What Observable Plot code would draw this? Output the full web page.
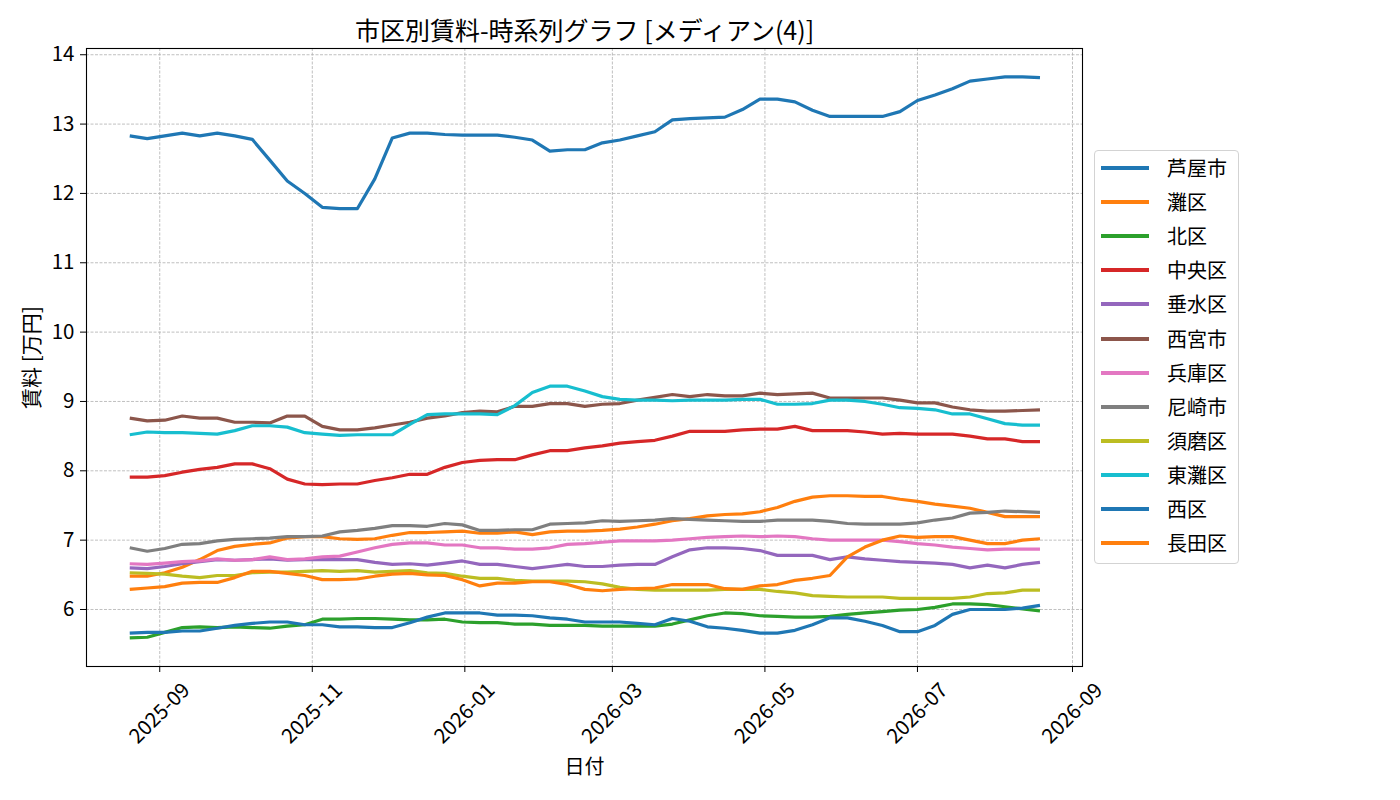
<!DOCTYPE html>
<html>
<head>
<meta charset="utf-8">
<script src="https://cdn.jsdelivr.net/npm/d3@7"></script>
<script src="https://cdn.jsdelivr.net/npm/@observablehq/plot@0.6"></script>
<style>
  html, body { margin: 0; padding: 0; background: #fff; }
  #wrap { position: relative; width: 1400px; height: 800px; overflow: hidden; font-family: "Noto Sans CJK JP", "Noto Sans", sans-serif; }
  #legend { position: absolute; left: 1094px; top: 150px; width: 145px; height: 414px; border: 1px solid #d3d3d3; border-radius: 4px; background: rgba(255,255,255,0.85); box-sizing: border-box; padding-top: 0px; }
  .row { height: 34.1px; display: flex; align-items: center; }
  .sw { width: 48px; height: 4px; margin-left: 6px; margin-right: 18px; }
  .lab { font-size: 20px; color: #000; line-height: 1; }
</style>
</head>
<body>
<div id="wrap"></div>
<script>
const series = ["芦屋市","灘区","北区","中央区","垂水区","西宮市","兵庫区","尼崎市","須磨区","東灘区","西区","長田区"];
const colors = ["#1f77b4","#ff7f0e","#2ca02c","#d62728","#9467bd","#8c564b","#e377c2","#7f7f7f","#bcbd22","#17becf","#1f77b4","#ff7f0e"];
const startDate = "2025-08-20";
const weekCount = 53;
const tickLabels = ["2025-09","2025-11","2026-01","2026-03","2026-05","2026-07","2026-09"];
const yTicks = [6,7,8,9,10,11,12,13,14];

const ashiya = [12.83,12.79,12.83,12.87,12.83,12.87,12.83,12.78,12.48,12.18,12.00,11.80,11.78,11.78,12.21,12.80,12.87,12.87,12.85,12.84,12.84,12.84,12.81,12.77,12.61,12.63,12.63,
  12.73,12.77,12.83,12.89,13.06,13.08,13.09,13.10,13.21,13.36,13.36,13.32,13.20,13.11,13.11,13.11,13.11,13.18,13.34,13.42,13.51,13.62,13.65,13.68,13.68,13.67];
const nada = [6.48,6.48,6.53,6.61,6.72,6.85,6.91,6.94,6.96,7.03,7.05,7.05,7.02,
  7.01,7.02,7.07,7.11,7.11,7.12,7.13,7.10,7.10,7.12,7.08,7.12,7.13,7.13,7.14,
  7.16,7.19,7.23,7.28,7.31,7.35,7.37,7.38,7.41,7.47,7.56,7.62,7.64,7.64,7.63,
  7.63,7.59,7.56,7.52,7.49,7.46,7.40,7.34,7.34,7.34];
const kita = [5.59,5.60,5.67,5.74,5.75,5.74,5.75,5.74,5.73,5.76,5.78,5.86,5.86,
  5.87,5.87,5.86,5.85,5.85,5.86,5.82,5.81,5.81,5.79,5.79,5.77,5.77,5.77,5.76,
  5.76,5.76,5.76,5.79,5.85,5.91,5.95,5.94,5.91,5.90,5.89,5.89,5.90,5.93,5.95,
  5.97,5.99,6.00,6.03,6.08,6.08,6.07,6.04,6.01,5.98];
const chuo = [7.91,7.91,7.93,7.98,8.02,8.05,8.10,8.10,8.03,7.88,7.81,7.80,7.81,7.81,7.86,7.90,7.95,7.95,8.05,8.12,8.15,8.16,8.16,8.23,8.29,8.29,8.33,8.36,
  8.40,8.42,8.44,8.50,8.57,8.57,8.57,8.59,8.60,8.60,8.64,8.58,8.58,8.58,8.56,8.53,8.54,8.53,8.53,8.53,8.50,8.46,8.46,8.42,8.42];
const tarumi = [6.60,6.59,6.62,6.66,6.69,6.72,6.71,6.72,6.73,6.71,6.72,6.72,6.72,
  6.72,6.68,6.65,6.66,6.64,6.67,6.70,6.65,6.65,6.62,6.59,6.62,6.65,6.62,6.62,
  6.64,6.65,6.65,6.76,6.86,6.89,6.89,6.88,6.85,6.78,6.78,6.78,6.72,6.76,6.73,
  6.71,6.69,6.68,6.67,6.65,6.60,6.64,6.60,6.65,6.68];
const nishinomiya = [8.76,8.72,8.73,8.79,8.76,8.76,8.70,8.70,8.69,8.79,8.79,8.64,8.59,8.59,8.62,8.66,8.70,8.76,8.79,8.84,8.86,8.85,8.93,8.93,8.97,8.97,8.93,8.96,
  8.97,9.02,9.06,9.10,9.07,9.10,9.08,9.08,9.12,9.10,9.11,9.12,9.05,9.05,9.05,9.05,9.02,8.98,8.98,8.92,8.88,8.86,8.86,8.87,8.88];
const hyogo = [6.66,6.65,6.67,6.69,6.70,6.73,6.71,6.72,6.76,6.72,6.73,6.76,6.77,
  6.83,6.89,6.94,6.96,6.96,6.93,6.93,6.89,6.89,6.87,6.87,6.89,6.94,6.95,6.97,
  6.99,6.99,6.99,7.00,7.02,7.04,7.05,7.06,7.05,7.06,7.05,7.02,7.00,7.00,7.00,
  7.00,6.98,6.95,6.93,6.90,6.88,6.86,6.87,6.87,6.87];
const amagasaki = [6.89,6.84,6.88,6.94,6.95,6.99,7.01,7.02,7.03,7.05,7.05,7.06,7.12,
  7.14,7.17,7.21,7.21,7.20,7.24,7.22,7.14,7.14,7.15,7.15,7.23,7.24,7.25,7.28,
  7.27,7.28,7.29,7.31,7.30,7.29,7.28,7.27,7.27,7.29,7.29,7.29,7.27,7.24,7.23,
  7.23,7.23,7.25,7.29,7.32,7.39,7.40,7.42,7.41,7.40];
const suma = [6.53,6.52,6.51,6.48,6.46,6.49,6.49,6.53,6.54,6.54,6.55,6.56,6.55,
  6.56,6.54,6.55,6.56,6.53,6.52,6.48,6.45,6.45,6.42,6.41,6.41,6.41,6.40,6.37,
  6.32,6.29,6.28,6.28,6.28,6.28,6.29,6.29,6.29,6.26,6.24,6.20,6.19,6.18,6.18,
  6.18,6.16,6.16,6.16,6.16,6.18,6.23,6.24,6.28,6.28];
const higashinada = [8.52,8.56,8.55,8.55,8.54,8.53,8.58,8.65,8.65,8.63,8.55,8.53,8.51,8.52,8.52,8.52,8.67,8.81,8.82,8.82,8.82,8.81,8.94,9.13,9.22,9.22,9.15,9.07,
  9.03,9.02,9.02,9.01,9.02,9.02,9.02,9.03,9.03,8.96,8.96,8.97,9.02,9.02,9.00,8.96,8.91,8.90,8.88,8.82,8.82,8.75,8.68,8.66,8.66];
const nishi = [5.66,5.67,5.67,5.69,5.69,5.73,5.77,5.80,5.82,5.82,5.78,5.78,5.75,
  5.75,5.74,5.74,5.81,5.89,5.95,5.95,5.95,5.92,5.92,5.91,5.88,5.86,5.82,5.82,
  5.82,5.80,5.78,5.87,5.83,5.75,5.73,5.70,5.66,5.66,5.70,5.78,5.88,5.88,5.83,
  5.77,5.68,5.68,5.77,5.93,6.00,6.00,6.00,6.02,6.06];
const nagata = [6.29,6.31,6.33,6.38,6.39,6.39,6.46,6.55,6.55,6.52,6.49,6.43,6.43,
  6.44,6.48,6.51,6.52,6.50,6.49,6.43,6.34,6.38,6.38,6.40,6.40,6.36,6.29,6.27,
  6.29,6.30,6.31,6.36,6.36,6.36,6.30,6.29,6.34,6.36,6.42,6.45,6.49,6.76,6.90,
  7.00,7.06,7.04,7.05,7.05,7.00,6.95,6.95,7.00,7.02];

const valueLists = [ashiya, nada, kita, chuo, tarumi, nishinomiya, hyogo, amagasaki, suma, higashinada, nishi, nagata];

const start = new Date(startDate + "T00:00:00Z");
const dates = d3.range(weekCount).map(i => d3.utcDay.offset(start, 7 * i));
const rows = [];
series.forEach((name, k) => {
  valueLists[k].forEach((v, i) => rows.push({date: dates[i], value: v, series: name}));
});
const tickDates = tickLabels.map(s => new Date(s + "-01T00:00:00Z"));
const tickRows = tickLabels.map((s, i) => ({date: tickDates[i], label: s}));

const chart = Plot.plot({
  width: 1400,
  height: 800,
  marginLeft: 86,
  marginRight: 318,
  marginTop: 48,
  marginBottom: 134,
  style: {fontFamily: '"Noto Sans CJK JP", "Noto Sans", sans-serif', fontSize: "20px", background: "white", color: "black", overflow: "visible"},
  x: {type: "utc", domain: [new Date(Date.UTC(2025, 7, 2, 17)), new Date(Date.UTC(2026, 8, 5))]},
  y: {domain: [5.178, 14.09]},
  color: {domain: series, range: colors},
  marks: [
    Plot.gridX(tickDates, {stroke: "#b0b0b0", strokeOpacity: 1, strokeWidth: 0.8, strokeDasharray: "3,1.5"}),
    Plot.gridY(yTicks, {stroke: "#b0b0b0", strokeOpacity: 1, strokeWidth: 0.8, strokeDasharray: "3,1.5"}),
    Plot.lineY(rows, {x: "date", y: "value", z: "series", stroke: "series", strokeWidth: 3.2, strokeLinecap: "butt"}),
    Plot.frame({stroke: "black", strokeWidth: 1.1}),
    Plot.axisX(tickDates, {tickFormat: () => "", tickSize: 6, label: null}),
    Plot.text(tickRows, {x: "date", text: "label", frameAnchor: "bottom", dy: 47, rotate: -45, textAnchor: "middle", lineAnchor: "middle", fontSize: 20.5, fill: "black"}),
    Plot.axisY(yTicks, {tickSize: 6, tickPadding: 6, tickFormat: d3.format("d"), label: null, fontSize: 20.5}),
    Plot.text(["市区別賃料-時系列グラフ [メディアン(4)]"], {frameAnchor: "top", dy: -17, textAnchor: "middle", lineAnchor: "middle", fontSize: 25, fill: "black"}),
    Plot.text(["日付"], {frameAnchor: "bottom", dy: 101, textAnchor: "middle", lineAnchor: "middle", fontSize: 20, fill: "black"}),
    Plot.text(["賃料 [万円]"], {frameAnchor: "left", dx: -54, rotate: -90, textAnchor: "middle", lineAnchor: "middle", fontSize: 21, fill: "black"})
  ]
});

const wrap = document.getElementById("wrap");
wrap.appendChild(chart);

const legend = document.createElement("div");
legend.id = "legend";
series.forEach((name, k) => {
  const row = document.createElement("div");
  row.className = "row";
  const sw = document.createElement("div");
  sw.className = "sw";
  sw.style.background = colors[k];
  const lab = document.createElement("span");
  lab.className = "lab";
  lab.textContent = name;
  row.appendChild(sw);
  row.appendChild(lab);
  legend.appendChild(row);
});
wrap.appendChild(legend);
</script>
</body>
</html>
